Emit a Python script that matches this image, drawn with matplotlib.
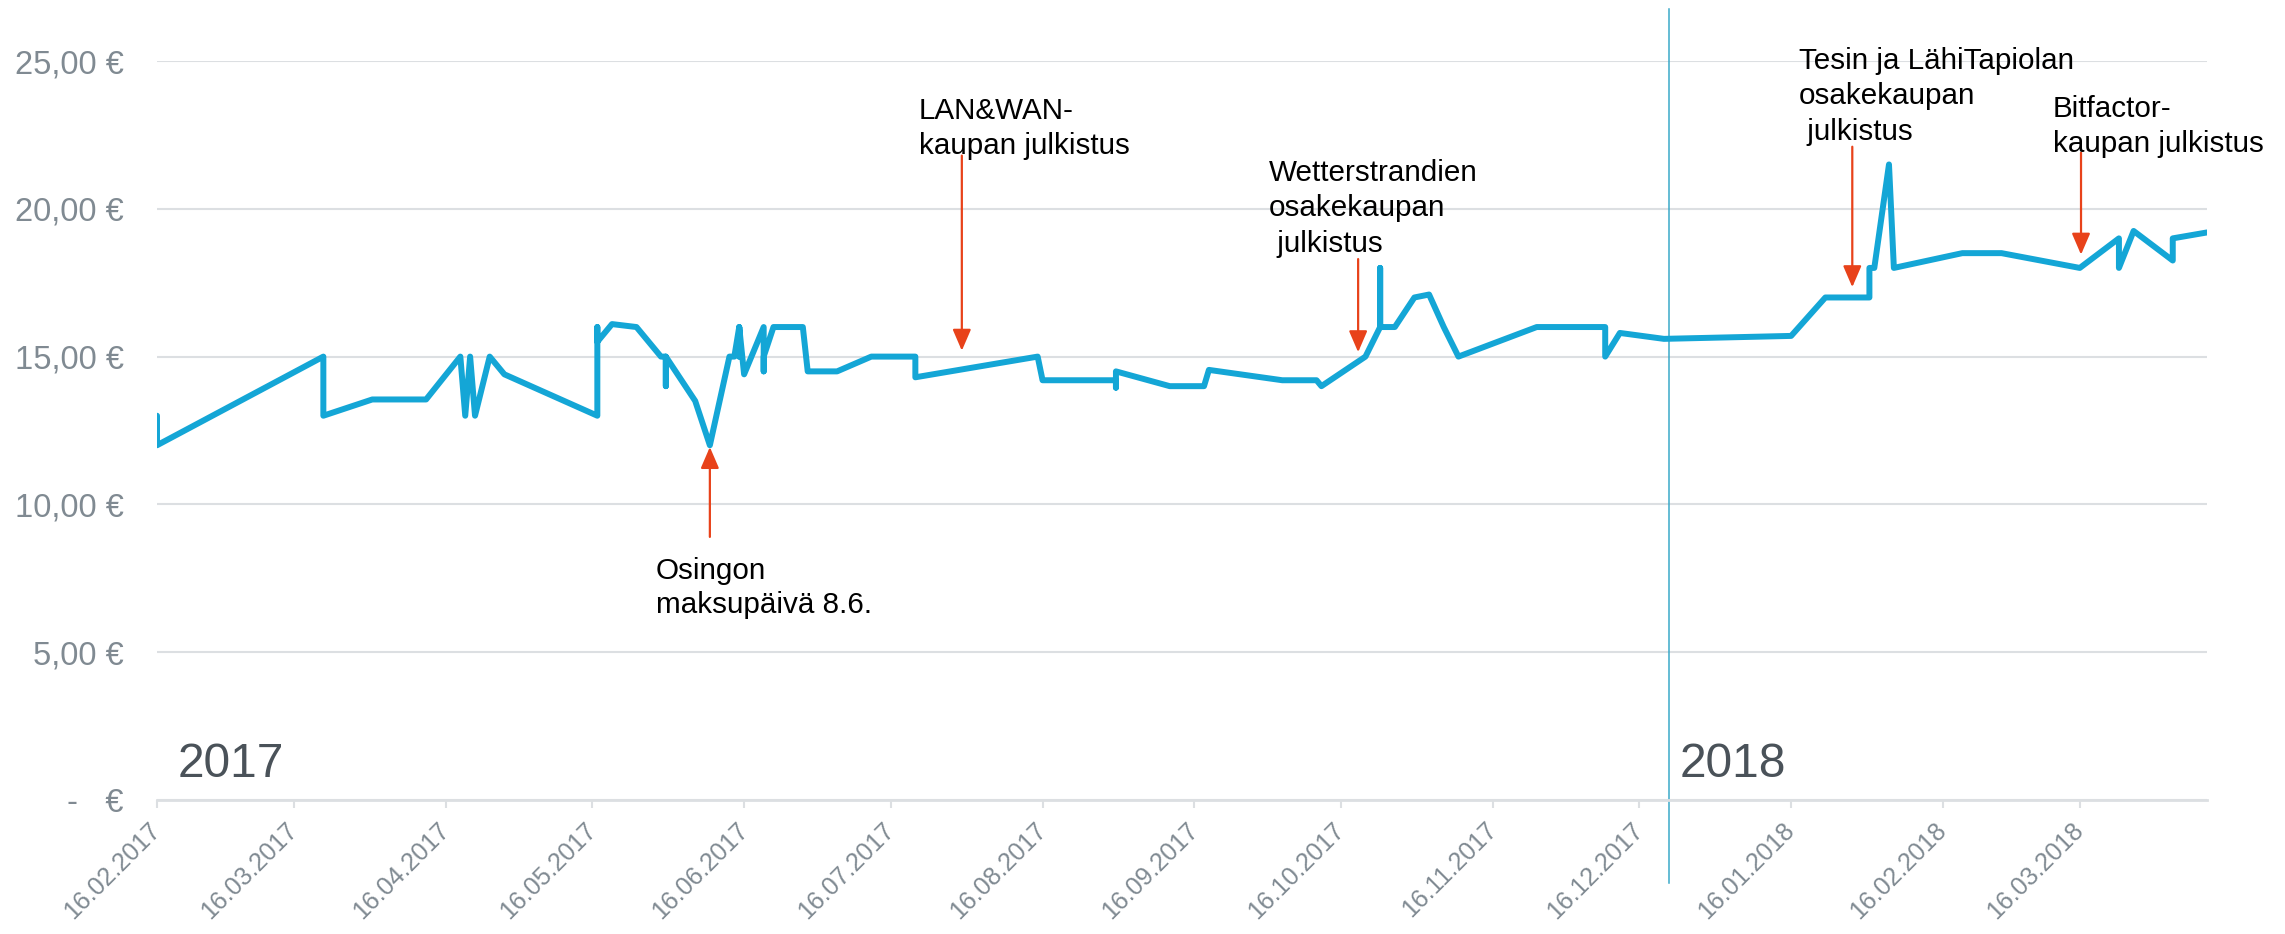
import matplotlib
matplotlib.use("Agg")
import matplotlib.pyplot as plt
import pandas as pd

# share price
dates = [
    "2017-02-16", "2017-02-16", "2017-03-22", "2017-03-22", "2017-04-01", "2017-04-12",
    "2017-04-19", "2017-04-20", "2017-04-21", "2017-04-22", "2017-04-25", "2017-04-28",
    "2017-05-17", "2017-05-17", "2017-05-17", "2017-05-20", "2017-05-25", "2017-05-30",
    "2017-05-31", "2017-05-31", "2017-05-31", "2017-06-06", "2017-06-09", "2017-06-13",
    "2017-06-14", "2017-06-15", "2017-06-15", "2017-06-15", "2017-06-16", "2017-06-20",
    "2017-06-20", "2017-06-20", "2017-06-22", "2017-06-28", "2017-06-29", "2017-07-05",
    "2017-07-12", "2017-07-21", "2017-07-21", "2017-08-15", "2017-08-16", "2017-08-31",
    "2017-08-31", "2017-08-31", "2017-09-11", "2017-09-18", "2017-09-19", "2017-10-04",
    "2017-10-11", "2017-10-12", "2017-10-21", "2017-10-24", "2017-10-24", "2017-10-24",
    "2017-10-27", "2017-10-31", "2017-11-03", "2017-11-06", "2017-11-09", "2017-11-25",
    "2017-12-09", "2017-12-09", "2017-12-12", "2017-12-21", "2018-01-16", "2018-01-23",
    "2018-02-01", "2018-02-01", "2018-02-02", "2018-02-05", "2018-02-06", "2018-02-20",
    "2018-02-28", "2018-03-16", "2018-03-24", "2018-03-24", "2018-03-27", "2018-04-04",
    "2018-04-04", "2018-04-11",
]
prices = [
    13.0, 12.0, 15.0, 13.0, 13.55, 13.55,
    15.0, 13.0, 15.0, 13.0, 15.0, 14.4,
    13.0, 16.0, 15.5, 16.1, 16.0, 15.0,
    15.0, 14.0, 15.0, 13.5, 12.0, 15.0,
    15.0, 16.0, 15.0, 16.0, 14.4, 16.0,
    14.5, 15.0, 16.0, 16.0, 14.5, 14.5,
    15.0, 15.0, 14.3, 15.0, 14.2, 14.2,
    13.95, 14.5, 14.0, 14.0, 14.55, 14.2,
    14.2, 14.0, 15.0, 16.0, 18.0, 16.0,
    16.0, 17.0, 17.1, 16.0, 15.0, 16.0,
    16.0, 15.0, 15.8, 15.6, 15.7, 17.0,
    17.0, 18.0, 18.0, 21.5, 18.0, 18.5,
    18.5, 18.0, 19.0, 18.0, 19.25, 18.25,
    19.0, 19.2,
]

tick_dates = [pd.Timestamp(2017, 2, 16) + pd.DateOffset(months=i) for i in range(14)]
y_ticks = [0, 5, 10, 15, 20, 25]

event_dates = ["2017-06-09", "2017-07-30 12:00", "2017-10-19 12:00", "2018-01-28 12:00",
               "2018-03-16 06:00"]
arrow_tip = [11.94, 15.2, 15.15, 17.35, 18.45]
arrow_tail = [8.9, 21.8, 18.3, 22.1, 21.9]
event_texts = [
    ["Osingon", "maksupäivä 8.6."],
    ["LAN&WAN-", "kaupan julkistus"],
    ["Wetterstrandien", "osakekaupan", " julkistus"],
    ["Tesin ja LähiTapiolan", "osakekaupan", " julkistus"],
    ["Bitfactor-", "kaupan julkistus"],
]
year_labels = ["2017", "2018"]
year_split = "2017-12-22"

W, H = 2285, 934
FONT = ["Liberation Sans", "DejaVu Sans"]
LINE = "#14a6d6"
RED = "#e8421a"
GREY = "#808a92"
GRID = "#dcdfe2"


def px(x, y):
    return x / W, 1 - y / H


def euro(v):
    if v == 0:
        return "-   €"
    return f"{v:.2f}".replace(".", ",") + " €"


fig = plt.figure(figsize=(W / 100, H / 100), dpi=100)
ax = fig.add_axes([157 / W, 1 - 800 / H, (2207 - 157) / W, (800 - 61) / H])

ax.plot(pd.to_datetime(dates), prices, color=LINE, lw=4.3, solid_joinstyle="round",
        solid_capstyle="round", zorder=3)

ax.set_xlim(pd.Timestamp("2017-02-16"), pd.Timestamp("2018-04-11"))
ax.set_ylim(0, 25)

ax.set_yticks(y_ticks)
ax.set_yticklabels([euro(v) for v in y_ticks], fontsize=23.5, color=GREY, family=FONT)
ax.tick_params(axis="y", length=0, pad=24)
ax.grid(axis="y", color=GRID, lw=1.5, zorder=0)

ax.set_xticks(tick_dates)
ax.set_xticklabels([d.strftime("%d.%m.%Y") for d in tick_dates], rotation=45,
                   ha="right", va="center", rotation_mode="anchor",
                   fontsize=18, color=GREY, family=FONT)
ax.tick_params(axis="x", length=6, width=1.5, color=GRID, pad=13)

for s in ["top", "right", "left"]:
    ax.spines[s].set_visible(False)
ax.spines["bottom"].set_color(GRID)
ax.spines["bottom"].set_linewidth(2)

# year separator
ax.axvline(pd.Timestamp(year_split), ymin=-0.112, ymax=1.07, color="#3aa9c9", lw=1.1,
           clip_on=False, zorder=2)

# event arrows
for d, tip, tail in zip(event_dates, arrow_tip, arrow_tail):
    t = pd.Timestamp(d)
    ax.annotate("", xy=(t, tip), xytext=(t, tail),
                arrowprops=dict(arrowstyle="-|>,head_length=0.65,head_width=0.28",
                                color=RED, lw=1.6, shrinkA=0, shrinkB=0,
                                mutation_scale=20),
                annotation_clip=False, zorder=4)

# event texts (left x, first baseline, line step) in pixels
text_pos = [(656, 579, 34), (919, 119, 35), (1269, 181, 35.5), (1799, 69, 35.5), (2053, 117, 35)]
for lines, (x0, y0, step) in zip(event_texts, text_pos):
    for i, line in enumerate(lines):
        fig.text(*px(x0, y0 + i * step), line, fontsize=21.3, family=FONT, color="black",
                 ha="left", va="baseline")

for label, x0 in zip(year_labels, [178, 1680]):
    fig.text(*px(x0, 777), label, fontsize=34.5, family=FONT, color="#4a5259",
             ha="left", va="baseline")

fig.savefig("out.png", dpi=100)
